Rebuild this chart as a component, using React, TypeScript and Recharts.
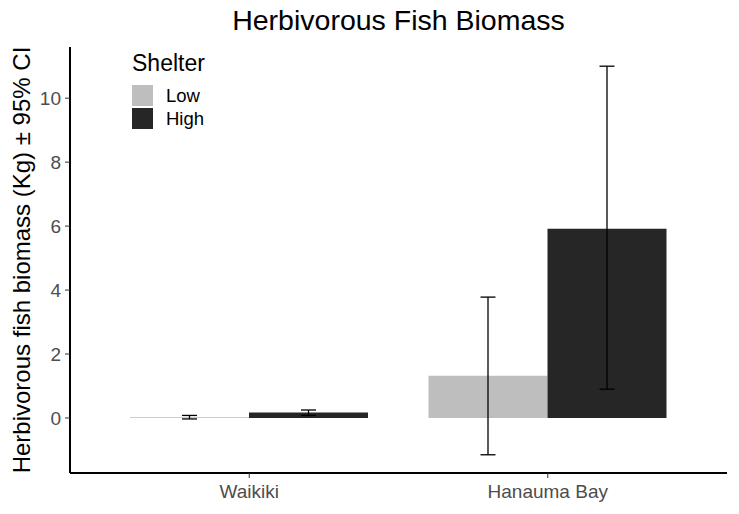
import React from 'react';
import { BarChart, Bar, XAxis, YAxis, ErrorBar, Legend } from 'recharts';

const sites = ['Waikiki', 'Hanauma Bay'];
const shelterLevels = ['Low', 'High'];
const lowMean = [0.02, 1.32];
const lowLower = [-0.03, -1.15];
const lowUpper = [0.08, 3.78];
const highMean = [0.17, 5.92];
const highLower = [0.08, 0.9];
const highUpper = [0.25, 11.0];
const yTicks = [0, 2, 4, 6, 8, 10];

const data = sites.map((site, i) => ({
  site,
  low: lowMean[i],
  lowErr: [lowMean[i] - lowLower[i], lowUpper[i] - lowMean[i]],
  high: highMean[i],
  highErr: [highMean[i] - highLower[i], highUpper[i] - highMean[i]],
}));

const FONT = '"Liberation Sans", Arial, sans-serif';

const ShelterLegend = (props: any) => {
  const items = [...(props.payload || [])].sort(
    (a: any, b: any) => shelterLevels.indexOf(a.value) - shelterLevels.indexOf(b.value)
  );
  return (
    <div style={{ fontFamily: FONT, textAlign: 'left' }}>
      <div style={{ fontSize: 23, color: '#000', lineHeight: '26px', marginBottom: 8 }}>Shelter</div>
      {items.map((it: any) => (
        <div key={it.value} style={{ display: 'flex', alignItems: 'center', height: 23 }}>
          <div style={{ width: 21, height: 21, background: it.color }} />
          <span style={{ marginLeft: 13, fontSize: 18.5, color: '#000' }}>{it.value}</span>
        </div>
      ))}
    </div>
  );
};

export default function App() {
  return (
    <div style={{ position: 'absolute', left: 0, top: 0, width: 739, height: 514, background: '#fff' }}>
      <div
        style={{
          position: 'absolute', left: 70, width: 657, top: 4, textAlign: 'center',
          fontFamily: FONT, fontSize: 28.5, color: '#000',
        }}
      >
        Herbivorous Fish Biomass
      </div>
      <div style={{ position: 'absolute', left: 22, top: 260, width: 0, height: 0 }}>
        <div
          style={{
            position: 'absolute', left: -300, width: 600, top: -14, textAlign: 'center',
            transform: 'rotate(-90deg)', fontFamily: FONT, fontSize: 24, color: '#000', whiteSpace: 'nowrap',
            lineHeight: '28px',
          }}
        >
          Herbivorous fish biomass (Kg) ± 95% CI
        </div>
      </div>
      <BarChart
        width={739}
        height={514}
        data={data}
        margin={{ top: 47, right: 12, bottom: 0, left: 0 }}
        barCategoryGap={30}
        barGap={0}
        style={{ position: 'absolute', left: 0, top: 0 }}
      >
        <XAxis
          dataKey="site"
          height={41}
          padding={{ left: 30, right: 30 }}
          axisLine={{ stroke: '#000', strokeWidth: 2 }}
          tickLine={{ stroke: '#333' }}
          tickSize={5}
          tickMargin={7}
          tick={{ fill: '#4d4d4d', fontSize: 19, fontFamily: FONT }}
        />
        <YAxis
          type="number"
          width={70}
          domain={[-1.72, 11.6]}
          ticks={yTicks}
          allowDataOverflow
          axisLine={{ stroke: '#000', strokeWidth: 2 }}
          tickLine={{ stroke: '#333' }}
          tickSize={5}
          tickMargin={4}
          tick={{ fill: '#4d4d4d', fontSize: 19, fontFamily: FONT }}
        />
        <Legend
          content={<ShelterLegend />}
          layout="horizontal"
          verticalAlign="middle"
          align="center"
          wrapperStyle={{ position: 'absolute', left: 132, top: 50, width: 120 }}
        />
        <Bar dataKey="low" name="Low" fill="#bebebe" isAnimationActive={false}>
          <ErrorBar dataKey="lowErr" width={7.5} stroke="#000" strokeWidth={1.3} direction="y" />
        </Bar>
        <Bar dataKey="high" name="High" fill="#262626" isAnimationActive={false}>
          <ErrorBar dataKey="highErr" width={7.5} stroke="#000" strokeWidth={1.3} direction="y" />
        </Bar>
      </BarChart>
    </div>
  );
}
